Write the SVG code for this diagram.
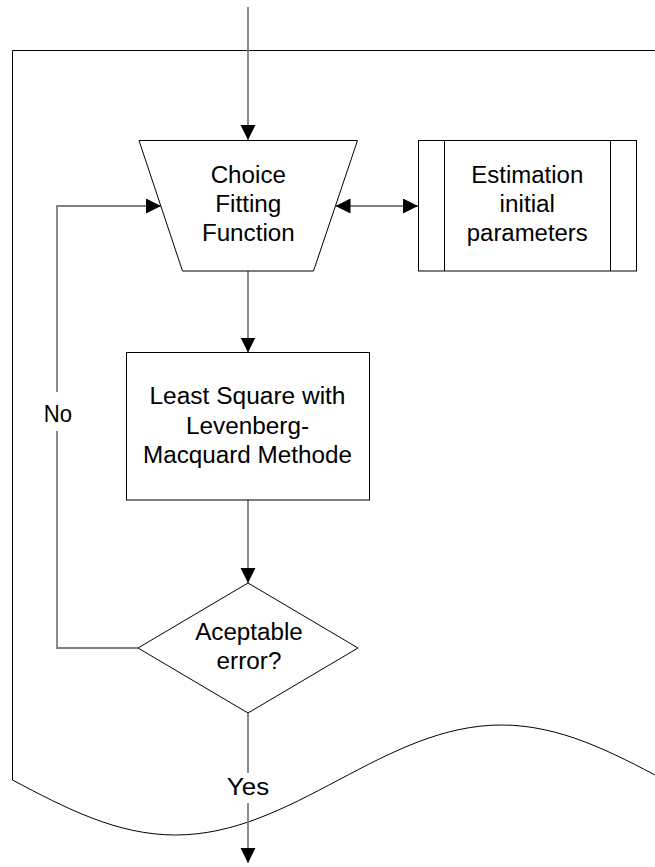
<svg xmlns="http://www.w3.org/2000/svg" width="655" height="867" viewBox="0 0 655 867">
  <style>
    .shape { fill: #ffffff; stroke: #000000; stroke-width: 1; }
    .frame { fill: none; stroke: #000000; stroke-width: 1; }
    .conn { fill: none; stroke: #808080; stroke-width: 1.8; }
    .lbl { font-family: "Liberation Sans", Arial, sans-serif; font-size: 23px; fill: #000000; text-anchor: middle; }
  </style>
  <defs>
    <marker id="arrow" markerUnits="userSpaceOnUse" markerWidth="16" markerHeight="16" refX="15" refY="7.5" orient="auto-start-reverse">
      <path d="M0,0 L15,7.5 L0,15 Z" fill="#000000"/>
    </marker>
  </defs>
  <rect width="655" height="867" fill="#ffffff"/>

  <!-- enclosing document-style frame with wavy bottom edge -->
  <g id="frame">
    <path class="frame" d="M664.5,50.5 L12.5,50.5 L12.5,780 C65.7,808.2 117.1,835 175.5,835 C233.9,835 285.3,808.2 338.5,780 C391.7,751.8 443.1,725 501.5,725 C559.9,725 611.3,751.8 664.5,780"/>
  </g>

  <!-- connectors -->
  <g id="connectors">
    <path class="conn" d="M248,7 V140" marker-end="url(#arrow)"/>
    <path class="conn" d="M335.5,206 H418" marker-start="url(#arrow)" marker-end="url(#arrow)"/>
    <path class="conn" d="M248,271 V352.5" marker-end="url(#arrow)"/>
    <path class="conn" d="M248,500 V583" marker-end="url(#arrow)"/>
    <path class="conn" d="M138,648 H57 V431"/>
    <path class="conn" d="M57,392 V206 H161" marker-end="url(#arrow)"/>
    <path class="conn" d="M248,713 V773"/>
    <path class="conn" d="M248,803 V863" marker-end="url(#arrow)"/>
    <text class="lbl" x="58" y="421.7" textLength="28.3" lengthAdjust="spacingAndGlyphs">No</text>
    <text class="lbl" x="248" y="795" textLength="42.3" lengthAdjust="spacingAndGlyphs">Yes</text>
  </g>

  <g id="choice-fitting-function">
    <polygon class="shape" points="139,140.5 357.5,140.5 313.5,271 182.5,271"/>
    <text class="lbl" x="248.3" y="183" textLength="75.3" lengthAdjust="spacingAndGlyphs">Choice</text>
    <text class="lbl" x="248.3" y="212" textLength="66.2" lengthAdjust="spacingAndGlyphs">Fitting</text>
    <text class="lbl" x="248.3" y="241" textLength="92.8" lengthAdjust="spacingAndGlyphs">Function</text>
  </g>

  <g id="estimation-initial-parameters">
    <rect class="shape" x="418.5" y="140.5" width="218" height="130.5"/>
    <line class="shape" x1="444.5" y1="140.5" x2="444.5" y2="271"/>
    <line class="shape" x1="610.5" y1="140.5" x2="610.5" y2="271"/>
    <text class="lbl" x="527.3" y="183" textLength="112" lengthAdjust="spacingAndGlyphs">Estimation</text>
    <text class="lbl" x="527.3" y="212" textLength="55.4" lengthAdjust="spacingAndGlyphs">initial</text>
    <text class="lbl" x="527.3" y="241" textLength="121" lengthAdjust="spacingAndGlyphs">parameters</text>
  </g>

  <g id="least-square">
    <rect class="shape" x="126.5" y="352.5" width="243" height="147.5"/>
    <text class="lbl" x="247.5" y="404" textLength="196" lengthAdjust="spacingAndGlyphs">Least Square with</text>
    <text class="lbl" x="247.5" y="433.5" textLength="123" lengthAdjust="spacingAndGlyphs">Levenberg-</text>
    <text class="lbl" x="247.5" y="463" textLength="209" lengthAdjust="spacingAndGlyphs">Macquard Methode</text>
  </g>

  <g id="acceptable-error">
    <polygon class="shape" points="248,583 358,648 248,713 138,648"/>
    <text class="lbl" x="249" y="640" textLength="107.7" lengthAdjust="spacingAndGlyphs">Aceptable</text>
    <text class="lbl" x="249" y="669" textLength="64.8" lengthAdjust="spacingAndGlyphs">error?</text>
  </g>
</svg>
